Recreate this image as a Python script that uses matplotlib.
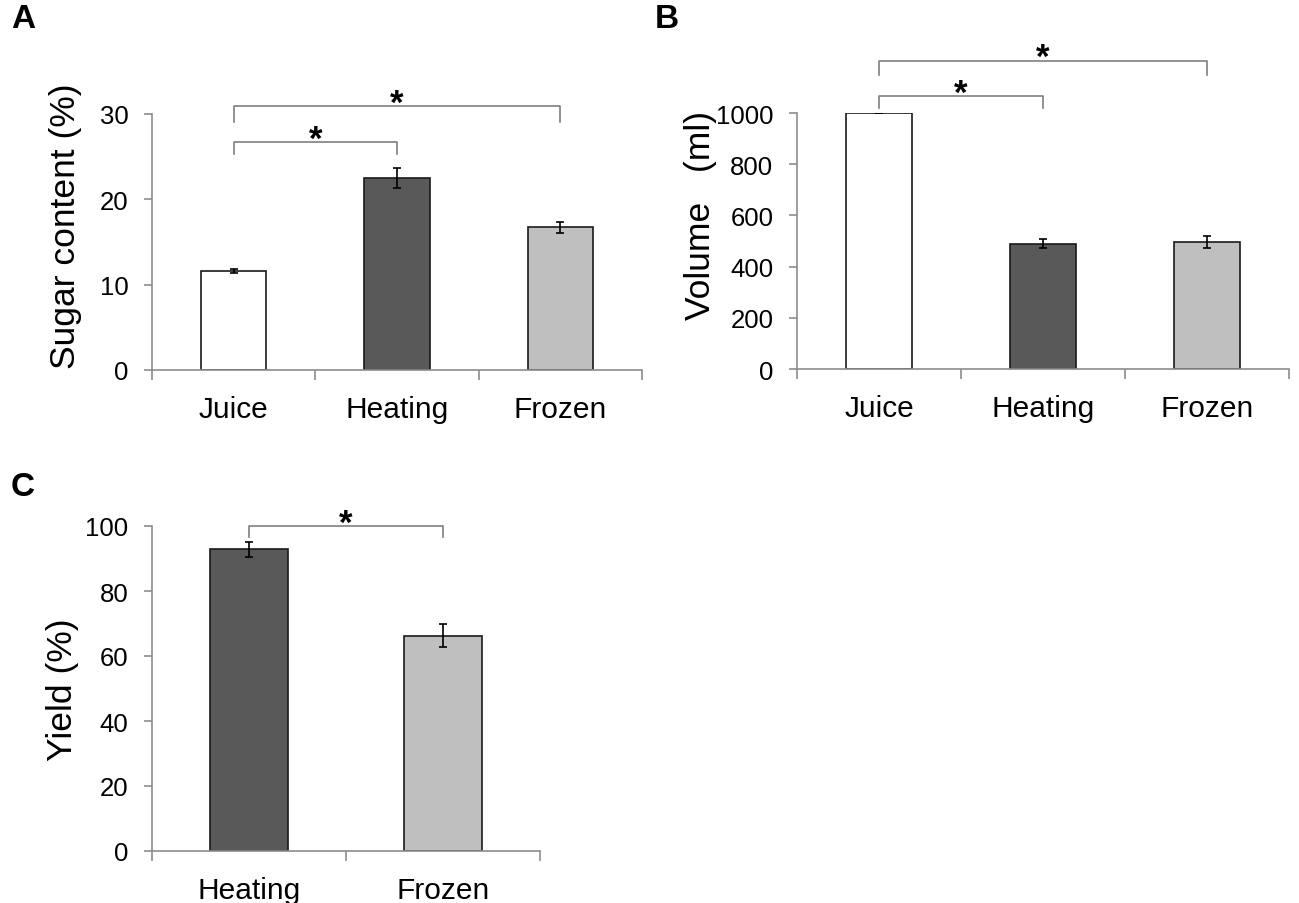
import matplotlib.pyplot as plt
import numpy as np

plt.rcParams["font.family"] = ["Liberation Sans", "DejaVu Sans"]

# Panel A - sugar content
cats_a = ["Juice", "Heating", "Frozen"]
sugar = [11.6, 22.5, 16.7]
sugar_err = [0.2, 1.15, 0.6]

# Panel B - volume
cats_b = ["Juice", "Heating", "Frozen"]
volume = [1000, 490, 495]
volume_err = [0, 17, 24]

# Panel C - yield
cats_c = ["Heating", "Frozen"]
yield_pct = [92.8, 66.3]
yield_err = [2.2, 3.4]

colors = {"Juice": "white", "Heating": "#595959", "Frozen": "#bfbfbf"}
AXIS_GRAY = "#8c8c8c"

W, H = 1299, 904
fig = plt.figure(figsize=(W / 100, H / 100), dpi=100)


def px_axes(left, right, top, bottom):
    return fig.add_axes([left / W, 1 - bottom / H, (right - left) / W, (bottom - top) / H])


def style_axes(ax, cats, ymax, yticks, ylabel, label_xy):
    n = len(cats)
    ax.set_xlim(-0.5, n - 0.5)
    ax.set_ylim(0, ymax)
    ax.spines["top"].set_visible(False)
    ax.spines["right"].set_visible(False)
    for s in ("left", "bottom"):
        ax.spines[s].set_color(AXIS_GRAY)
        ax.spines[s].set_linewidth(1.2)
    ax.set_yticks(yticks)
    ax.tick_params(axis="y", direction="out", length=6, width=1.2, color=AXIS_GRAY,
                   labelsize=18.5, pad=11)
    # category labels centred, ticks at the category boundaries
    ax.set_xticks(np.arange(n))
    ax.set_xticklabels(cats, fontsize=21.5)
    ax.tick_params(axis="x", which="major", length=0, pad=18)
    ax.set_xticks(np.arange(n + 1) - 0.5, minor=True)
    ax.tick_params(axis="x", which="minor", direction="out", length=7, width=1.2,
                   color=AXIS_GRAY)
    ax.set_ylabel(ylabel, fontsize=25.5)
    ax.yaxis.set_label_coords(*label_xy)


def bars(ax, cats, vals, errs):
    x = np.arange(len(cats))
    ax.bar(x, vals, width=0.4, color=[colors[c] for c in cats],
           edgecolor="#1a1a1a", linewidth=1.2, zorder=2)
    ax.errorbar(x, vals, yerr=errs, fmt="none", ecolor="black", elinewidth=1.2,
                capsize=2.8, capthick=1.2, zorder=3)


def bracket(ax, x0, x1, y_leg, y_top):
    ax.plot([x0, x0, x1, x1], [y_leg, y_top, y_top, y_leg], color="#7f7f7f",
            lw=1.2, clip_on=False, zorder=4)
    ax.annotate("*", xy=((x0 + x1) / 2, y_top), xytext=(0, 2),
                textcoords="offset points", ha="center", va="center",
                fontsize=25, fontweight="bold", annotation_clip=False)


# A
ax_a = px_axes(152, 642, 115, 371)
bars(ax_a, cats_a, sugar, sugar_err)
style_axes(ax_a, cats_a, 30, [0, 10, 20, 30], "Sugar content (%)", (-0.143, 0.565))
bracket(ax_a, 0, 1, 25.3, 26.7)
bracket(ax_a, 0, 2, 29.1, 30.9)

# B
ax_b = px_axes(797, 1289, 114, 370)
bars(ax_b, cats_b, volume, volume_err)
style_axes(ax_b, cats_b, 1000, [0, 200, 400, 600, 800, 1000], "Volume   (ml)",
           (-0.162, 0.605))
bracket(ax_b, 0, 1, 1019, 1066)
bracket(ax_b, 0, 2, 1147, 1205)

# C
ax_c = px_axes(152, 540, 527, 852)
bars(ax_c, cats_c, yield_pct, yield_err)
style_axes(ax_c, cats_c, 100, [0, 20, 40, 60, 80, 100], "Yield (%)", (-0.188, 0.5))
bracket(ax_c, 0, 1, 96.6, 100)

for label, (x, y) in {"A": (11, 4), "B": (655, 4), "C": (11, 472)}.items():
    fig.text(x / W, 1 - y / H, label, fontsize=24, fontweight="bold",
             ha="left", va="top")

fig.savefig("out.png", dpi=100)
